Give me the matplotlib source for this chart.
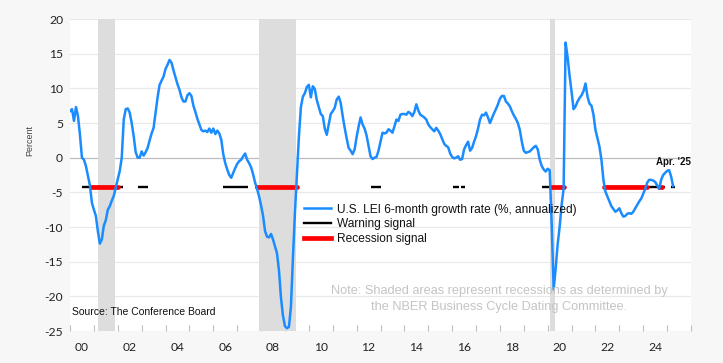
import numpy as np
import matplotlib
matplotlib.use("Agg")
import matplotlib.pyplot as plt
from matplotlib.lines import Line2D

# ---------------- data ----------------
start_year = 2000
lei_6m_growth = [
    # 2000
    6.7, 7.0, 5.3, 7.3, 6.0, 3.3, 0.0, -0.3, -1.2, -2.6, -4.0, -6.5,
    # 2001
    -7.5, -8.4, -10.6, -12.4, -11.8, -9.8, -9.0, -7.5, -7.0, -6.2, -5.5, -4.3,
    # 2002
    -3.1, -1.9, 0.0, 5.5, 7.0, 7.1, 6.5, 5.0, 3.1, 0.8, 0.0, 0.0,
    # 2003
    0.9, 0.3, 0.8, 1.4, 2.5, 3.5, 4.3, 6.5, 8.7, 10.5, 11.1, 11.7,
    # 2004
    12.8, 13.4, 14.1, 13.7, 12.6, 11.6, 10.6, 9.8, 8.7, 8.1, 8.1, 9.0,
    # 2005
    9.3, 8.9, 7.5, 6.6, 5.6, 4.8, 4.0, 3.8, 3.9, 3.7, 4.2, 3.6,
    # 2006
    4.2, 3.4, 3.9, 3.5, 2.6, 0.5, -0.8, -1.7, -2.5, -2.9, -2.2, -1.5,
    # 2007
    -0.9, -0.5, -0.3, 0.2, 0.6, -0.3, -0.8, -1.4, -2.4, -3.6, -4.5, -5.6,
    # 2008
    -6.9, -8.4, -10.6, -11.4, -11.5, -11.0, -11.8, -12.8, -13.8, -16.3, -20.2, -22.8,
    # 2009
    -24.3, -24.6, -24.4, -21.5, -14.5, -8.0, -2.5, 3.0, 7.3, 8.8, 9.3, 10.2,
    # 2010
    10.5, 8.7, 10.3, 9.9, 8.3, 7.3, 6.3, 6.0, 4.2, 3.3, 4.8, 6.3,
    # 2011
    6.7, 7.2, 8.4, 8.8, 7.9, 6.0, 4.3, 2.8, 1.4, 1.0, 0.5, 1.2,
    # 2012
    3.0, 4.5, 5.8, 4.8, 4.2, 3.2, 1.7, 0.2, -0.2, 0.0, 0.1, 1.0,
    # 2013
    2.3, 3.6, 3.5, 3.6, 4.1, 3.9, 3.6, 4.5, 5.5, 5.3, 6.2, 6.3,
    # 2014
    6.3, 6.2, 6.6, 6.4, 6.0, 6.6, 7.7, 6.8, 6.2, 6.0, 5.8, 5.5,
    # 2015
    4.8, 4.4, 4.1, 3.8, 4.3, 3.9, 3.4, 2.7, 2.0, 1.7, 1.5, 0.6,
    # 2016
    0.1, -0.1, 0.0, 0.2, -0.3, -0.2, 1.2, 1.8, 2.3, 1.0, 1.4, 2.3,
    # 2017
    3.1, 4.2, 5.5, 6.2, 6.1, 6.5, 5.8, 5.0, 5.7, 6.4, 7.0, 7.7,
    # 2018
    8.5, 8.9, 8.9, 8.1, 7.8, 7.4, 6.7, 6.1, 5.6, 5.0, 4.0, 2.3,
    # 2019
    1.0, 0.7, 0.8, 0.9, 1.2, 1.5, 1.7, 1.2, -0.3, -1.2, -1.7, -2.0,
    # 2020
    -1.6, -1.8, -9.5, -19.0, -16.0, -12.5, -10.0, -6.8, -4.5, 16.6, 14.5, 11.8,
    # 2021
    9.5, 7.0, 7.4, 8.1, 8.6, 9.0, 9.6, 10.7, 8.8, 7.8, 7.5, 6.2,
    # 2022
    4.0, 2.8, 1.6, -0.3, -3.2, -4.9, -5.6, -6.3, -7.0, -7.4, -7.8, -7.6,
    # 2023
    -7.3, -8.0, -8.5, -8.4, -8.1, -8.0, -8.1, -7.8, -7.3, -6.8, -6.3, -5.9,
    # 2024
    -5.2, -4.5, -3.6, -3.2, -3.2, -3.3, -3.5, -4.0, -4.5, -3.2, -2.5, -2.2,
    # 2025
    -1.9, -1.8, -2.7, -4.1,
]

recessions = [(2001.17, 2001.88), (2007.92, 2009.45), (2020.08, 2020.30)]
warning_periods = [(2000.49, 2002.21), (2002.86, 2003.28), (2006.40, 2007.45),
                   (2007.73, 2007.84), (2012.59, 2013.04), (2016.02, 2016.28),
                   (2016.37, 2016.53), (2019.77, 2020.14), (2022.37, 2024.57),
                   (2024.78, 2024.92), (2025.18, 2025.32)]
recession_signals = [(2000.88, 2002.00), (2007.84, 2009.52), (2020.14, 2020.70),
                     (2022.37, 2024.15), (2024.65, 2024.78)]
signal_level = -4.2

y_ticks = [-25, -20, -15, -10, -5, 0, 5, 10, 15, 20]
x_label_years = list(range(2000, 2025, 2))
x_tick_labels = [f"{y % 100:02d}" for y in x_label_years]

legend_labels = ["U.S. LEI 6-month growth rate (%, annualized)",
                 "Warning signal", "Recession signal"]
source_text = "Source: The Conference Board"
note_text = ("Note: Shaded areas represent recessions as determined by\n"
             "the NBER Business Cycle Dating Committee.")
last_label = "Apr. '25"

# ---------------- figure ----------------
W, H = 723, 363
fig = plt.figure(figsize=(W / 100, H / 100), dpi=100, facecolor="#f7f7f7")
ax = fig.add_axes([70 / W, 1 - 331 / H, (691 - 70) / W, (331 - 19) / H])
ax.set_facecolor("white")

x = start_year + np.arange(len(lei_6m_growth)) / 12.0
y = np.array(lei_6m_growth)

# grid
for t in y_ticks:
    if t == 0:
        ax.axhline(t, color="#bdbdbd", lw=0.9, zorder=1)
    else:
        ax.axhline(t, color="#e9e9e9", lw=0.9, zorder=1)

# recession shading
for a, b in recessions:
    ax.axvspan(a, b, color="#dddddd", lw=0, zorder=2)

# signals
for a, b in warning_periods:
    ax.plot([a, b], [signal_level, signal_level], color="black", lw=1.7,
            solid_capstyle="butt", zorder=3)
for a, b in recession_signals:
    ax.plot([a, b], [signal_level, signal_level], color="#ff0000", lw=3.4,
            solid_capstyle="round", zorder=4)

# main series
ax.plot(x, y, color="#1a8cff", lw=1.8, zorder=5)

ax.set_xlim(2000, 2026)
ax.set_ylim(-25, 20)
for s in ax.spines.values():
    s.set_visible(False)

tick_font = dict(family=["Lato", "DejaVu Sans"], size=8.7)
ax.set_yticks(y_ticks)
ax.set_yticklabels([str(t) for t in y_ticks], **tick_font, color="#222222")
ax.tick_params(axis="y", length=0, pad=5)

ax.set_xticks(np.arange(2000, 2027, 1))
ax.set_xticklabels([])
ax.tick_params(axis="x", which="major", direction="in", length=4,
               color="#bdbdbd", width=0.8)
ax.set_xticks([yr + 0.5 for yr in x_label_years], minor=True)
ax.set_xticklabels(x_tick_labels, minor=True, **tick_font, color="#222222")
ax.tick_params(axis="x", which="minor", length=0, pad=8)

fig.text(30 / W, 1 - 140 / H, "Percent", rotation=90, ha="center", va="center",
         family=["Liberation Sans", "DejaVu Sans"], size=6.5, color="#444444")

# legend
handles = [Line2D([], [], color="#1a8cff", lw=1.8),
           Line2D([], [], color="black", lw=1.7),
           Line2D([], [], color="#ff0000", lw=3.4)]
leg = ax.legend(handles, legend_labels, loc="upper left",
                bbox_to_anchor=((304 - 70) / 621, (331 - 203.5) / 312),
                frameon=False, prop=dict(family=["Liberation Sans", "DejaVu Sans"], size=8.6),
                handlelength=2.25, handletextpad=0.5, labelspacing=0.24,
                borderaxespad=0, borderpad=0)
for t in leg.get_texts():
    t.set_color("#111111")

ax.text((72 - 70) / 621, (331 - 312) / 312, source_text, transform=ax.transAxes,
        ha="left", va="center", family=["Liberation Sans", "DejaVu Sans"],
        size=7.5, color="#111111", zorder=6)
ax.text((499 - 70) / 621, (331 - 299) / 312, note_text, transform=ax.transAxes,
        ha="center", va="center", family=["Liberation Sans", "DejaVu Sans"],
        size=9.2, color="#c4c4c4", linespacing=1.55, zorder=6)

ax.annotate(last_label, xy=(x[-1], y[-1]), xytext=(0, 17),
            textcoords="offset points", ha="center", va="center",
            family=["Liberation Sans", "DejaVu Sans"], size=7, weight="bold",
            color="#111111", zorder=6)

fig.savefig("out.png", dpi=100, facecolor=fig.get_facecolor())
